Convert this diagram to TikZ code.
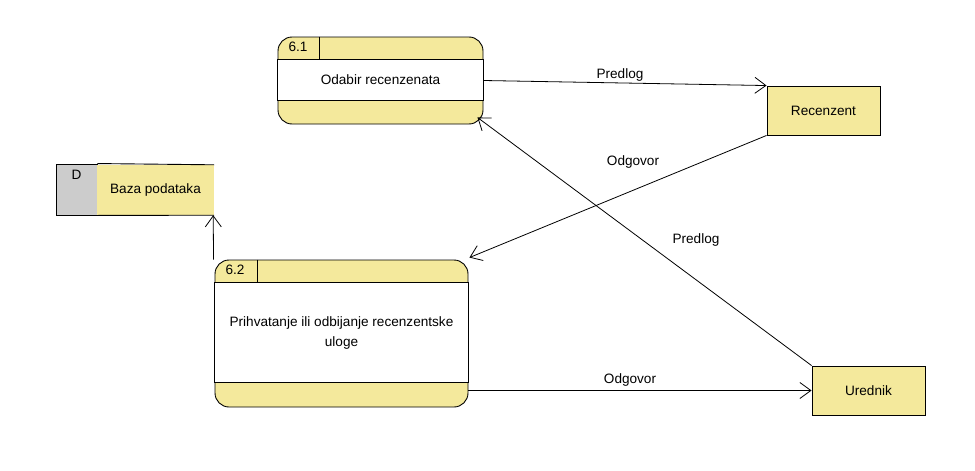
\documentclass[tikz,border=0pt]{standalone}
\usepackage{fontspec}
\setmainfont{Liberation Sans}
\usetikzlibrary{arrows.meta}
\definecolor{dfdyellow}{HTML}{F4E99C}
\definecolor{dfdgray}{HTML}{CCCCCC}
\tikzset{
  txt/.style={font=\fontsize{13.6}{20}\selectfont, inner sep=0pt},
  process/.style={draw=black, fill=dfdyellow, rounded corners=14pt, line width=0.9pt, inner sep=0pt},
  band/.style={draw=black, fill=white, line width=0.9pt},
  entity/.style={draw=black, fill=dfdyellow, line width=0.9pt, inner sep=0pt, txt},
  flow/.style={draw=black, line width=0.8pt, -{Straight Barb[length=11pt,width=16pt,line width=0.8pt]}},
  lbl/.style={txt}
}
\begin{document}
\begin{tikzpicture}[x=1pt,y=-1pt]
\useasboundingbox (0,0) rectangle (975,471);

% process 6.1
\node[process, minimum width=205pt, minimum height=87pt] (p61) at (380.5,80.5) {};
\draw[band] ([yshift=-23pt]p61.north west) rectangle ([yshift=24pt]p61.south east);
\draw[line width=0.9pt] ([xshift=42pt]p61.north west) -- ([xshift=42pt,yshift=-23pt]p61.north west);
\node[txt] (p61num) at (298,47) {6.1};
\node[txt] (p61name) at (380.5,80) {Odabir recenzenata};

% process 6.2
\node[process, minimum width=253pt, minimum height=147pt] (p62) at (341.5,333.5) {};
\draw[band] ([yshift=-23pt]p62.north west) rectangle ([yshift=25pt]p62.south east);
\draw[line width=0.9pt] ([xshift=43pt]p62.north west) -- ([xshift=43pt,yshift=-23pt]p62.north west);
\node[txt] (p62num) at (235,270) {6.2};
\node[txt, align=center] (p62name) at (341.5,332.5) {Prihvatanje ili odbijanje recenzentske\\uloge};

% data store
\node[draw=black, fill=dfdgray, line width=0.9pt, minimum width=41pt, minimum height=51pt, inner sep=0pt] (dbid) at (76.5,189.5) {};
\node[txt] at (76.5,175) {D};
\node[fill=dfdyellow, minimum width=117pt, minimum height=50pt, inner sep=0pt] (db) at (155.5,190) {};
\draw[line width=0.9pt] (dbid.north east) -- (db.north east);
\draw[line width=0.9pt] (dbid.south east) -- (db.south east);
\node[txt] (dbname) at (155.5,190) {Baza podataka};

% external entities
\node[entity, minimum width=113pt, minimum height=49pt] (rec) at (823.5,110.5) {Recenzent};
\node[entity, minimum width=113pt, minimum height=49pt] (ure) at (868.5,390.5) {Urednik};

% data flows
\draw[flow] (p61.east) -- (rec.north west);
\node[lbl] at (620,75) {Predlog};

\draw[flow] (rec.south west) -- ([xshift=1pt,yshift=2pt]p62.north east);
\node[lbl] at (633,162) {Odgovor};

\draw[flow] (ure.north west) -- ([xshift=-6pt,yshift=7pt]p61.south east);
\node[lbl] at (696,240) {Predlog};

\draw[flow] (p62.east |- ure.west) -- (ure.west);
\node[lbl] at (630,380) {Odgovor};

\draw[flow] ([xshift=-1pt]p62.north west) -- ([xshift=-1pt]db.south east);
\end{tikzpicture}
\end{document}
